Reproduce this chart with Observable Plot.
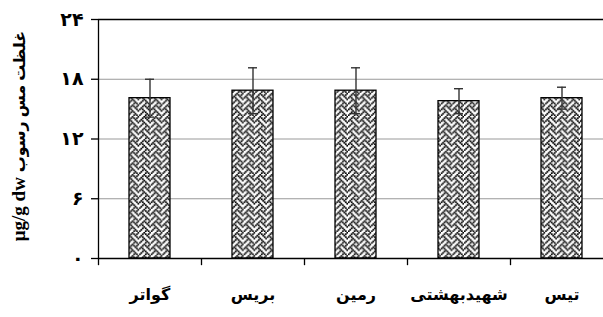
<!DOCTYPE html>
<html><head><meta charset="utf-8">
<script src="https://cdn.jsdelivr.net/npm/d3@7"></script>
<script src="https://cdn.jsdelivr.net/npm/@observablehq/plot@0.6"></script>
<style>body{margin:0;background:#fff}</style>
</head><body><div id="chart"></div>
<script>
const categories = ["گواتر", "بریس", "رمین", "شهیدبهشتی", "تیس"];
const means = [16.1, 16.85, 16.85, 15.8, 16.1];
const errors = [1.9, 2.3, 2.3, 1.25, 1.1];
const yTicks = [0, 6, 12, 18, 24];
const yLabelUnit = "μg/g dw";
const yLabelText = "غلظت مس رسوب";

const data = categories.map((c, i) => ({c, v: means[i], lo: means[i] - errors[i], hi: means[i] + errors[i]}));
const fa = d => String(d).replace(/\d/g, ch => "۰۱۲۳۴۵۶۷۸۹"[ch]);
const font = "'Liberation Serif', 'DejaVu Sans', serif";

const plot = Plot.plot({
  width: 603, height: 317,
  marginTop: 19, marginBottom: 59, marginLeft: 98, marginRight: -10,
  style: {fontFamily: font, background: "#fff"},
  x: {domain: categories, paddingInner: 0.6, paddingOuter: 0.3, axis: null},
  y: {domain: [0, 24], axis: null},
  marks: [
    Plot.ruleY([6, 12, 18], {stroke: "#999", strokeWidth: 1}),
    Plot.ruleY([24], {stroke: "#000", strokeWidth: 1.3}),
    Plot.barY(data, {x: "c", y: "v", fill: "url(#weave)", stroke: "#000", strokeWidth: 1.3}),
    Plot.ruleX(data, {x: "c", y1: "lo", y2: "hi", stroke: "#333", strokeWidth: 1.4}),
    Plot.tickY(data, {x: "c", y: "lo", stroke: "#333", strokeWidth: 1.4, insetLeft: 16, insetRight: 16}),
    Plot.tickY(data, {x: "c", y: "hi", stroke: "#333", strokeWidth: 1.4, insetLeft: 16, insetRight: 16}),
    Plot.ruleY([0], {stroke: "#000", strokeWidth: 1.3}),
    Plot.ruleX(categories, {x: d => d, y1: 24, y2: 0, dx: -51.5, stroke: "#000", strokeWidth: 1.3, filter: (d, i) => i === 0}),
    Plot.ruleX(categories, {x: d => d, y1: 0, y2: -0.72, dx: -51.5, stroke: "#000", strokeWidth: 1.3}),
    Plot.axisY(yTicks, {tickSize: 7, tickPadding: 8, tickFormat: fa, fontSize: 19, fontWeight: "bold", stroke: "#000", strokeWidth: 1.3, label: null}),
    Plot.axisX({tickSize: 0, tickPadding: 30, fontSize: 16, fontWeight: "bold", label: null}),
    Plot.text([yLabelUnit + " " + yLabelText], {frameAnchor: "left", textAnchor: "middle", dx: -78, dy: -3, rotate: -90, fontSize: 15, fontWeight: "bold", fill: "#000", className: "ylab"})
  ]
});

const svg = d3.select(plot);
// split the y label into two runs with different sizes
svg.selectAll(".ylab text").each(function() {
  const t = d3.select(this);
  t.text(null);
  t.append("tspan").attr("font-size", 19).text(yLabelUnit + " ");
  t.append("tspan").attr("font-size", 16).text(yLabelText);
});
const defs = svg.insert("defs", ":first-child");
const s = 1.45;
const bits = [0x11, 0x2a, 0x44, 0xa2, 0x11, 0x28, 0x44, 0x8a];
const pat = defs.append("pattern").attr("id", "weave").attr("patternUnits", "userSpaceOnUse")
  .attr("width", 8 * s).attr("height", 8 * s);
pat.append("rect").attr("width", 8 * s).attr("height", 8 * s).attr("fill", "#fff");
bits.forEach((b, r) => {
  for (let c = 0; c < 8; c++) {
    if (b & (0x80 >> c)) pat.append("rect").attr("x", c * s - 0.15).attr("y", r * s - 0.15).attr("width", s + 0.3).attr("height", s + 0.3).attr("fill", "#000");
  }
});
document.getElementById("chart").append(plot);
</script>
</body></html>
